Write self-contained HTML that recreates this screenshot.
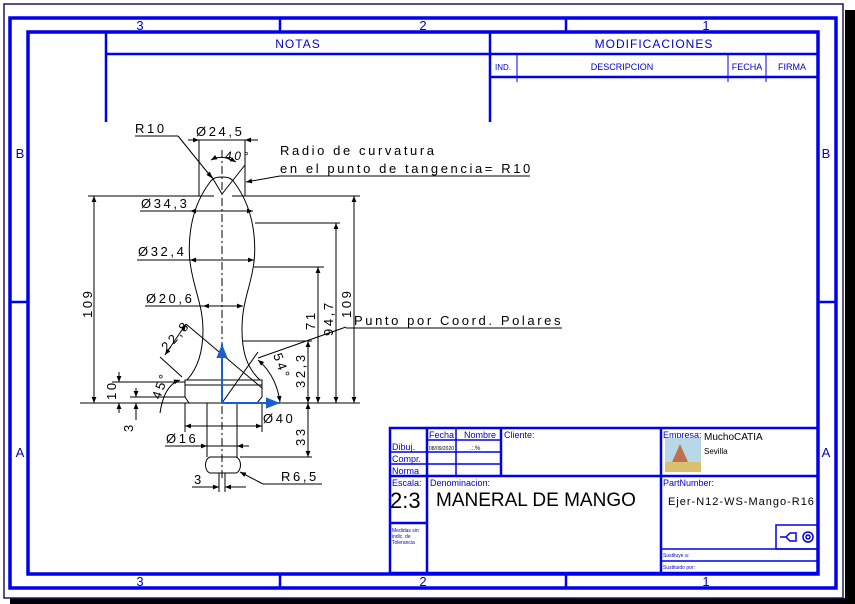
<!DOCTYPE html>
<html><head><meta charset="utf-8"><style>
html,body{margin:0;padding:0;background:#fff;}
svg{display:block;}
.b{stroke:#0000ee;fill:none;}
.k{stroke:#000;fill:none;stroke-width:1;}
.t{font-family:"Liberation Sans",sans-serif;fill:#000;font-size:13px;letter-spacing:2.6px;}
.bt{font-family:"Liberation Sans",sans-serif;fill:#0000cc;}
</style></head><body>
<svg width="855" height="604" viewBox="0 0 855 604" xmlns="http://www.w3.org/2000/svg">
<defs>
<marker id="a" viewBox="0 0 10 10" refX="10" refY="5" markerWidth="8" markerHeight="6" orient="auto-start-reverse"><path d="M0,1 L10,5 L0,9z" fill="#000"/></marker>
<marker id="ab" viewBox="0 0 10 10" refX="10" refY="5" markerWidth="9" markerHeight="7" orient="auto"><path d="M0,1 L10,5 L0,9z" fill="#1a5fd0"/></marker>
</defs>
<rect x="845" y="10" width="10" height="594" fill="#000"/>
<rect x="10" y="598" width="845" height="6" fill="#000"/>
<rect x="4" y="4" width="839" height="594" fill="#fff" stroke="#1a1a60" stroke-width="1.5"/>
<g class="b" stroke-width="3.5">
<rect x="10" y="18" width="826" height="570"/>
<rect x="28" y="32" width="790" height="542"/>
</g>
<g class="b" stroke-width="2.5">
<line x1="280" y1="18" x2="280" y2="32"/><line x1="566" y1="18" x2="566" y2="32"/>
<line x1="280" y1="574" x2="280" y2="588"/><line x1="566" y1="574" x2="566" y2="588"/>
<line x1="10" y1="302" x2="28" y2="302"/><line x1="818" y1="302" x2="836" y2="302"/>
<line x1="106" y1="32" x2="106" y2="122"/><line x1="106" y1="54" x2="818" y2="54"/>
<line x1="490" y1="32" x2="490" y2="122"/><line x1="490" y1="77" x2="818" y2="77"/>
</g>
<g class="b" stroke-width="1"><line x1="517" y1="54" x2="517" y2="82"/><line x1="728" y1="54" x2="728" y2="82"/><line x1="766" y1="54" x2="766" y2="82"/></g>
<g class="bt" font-size="13" text-anchor="middle">
<text x="140" y="30">3</text><text x="423" y="30">2</text><text x="706" y="30">1</text>
<text x="140" y="586">3</text><text x="423" y="586">2</text><text x="706" y="586">1</text>
<text x="20" y="158">B</text><text x="826" y="158">B</text><text x="20" y="457">A</text><text x="826" y="457">A</text>
<text x="298" y="48" font-size="12" letter-spacing="1">NOTAS</text>
<text x="654" y="48" font-size="12" letter-spacing="1">MODIFICACIONES</text>
<text x="503" y="70" font-size="8">IND.</text><text x="622" y="70" font-size="9">DESCRIPCION</text>
<text x="747" y="70" font-size="9">FECHA</text><text x="792" y="70" font-size="9">FIRMA</text>
</g>
<g class="b" stroke-width="2.5">
<rect x="390" y="428" width="428" height="145"/>
<line x1="390" y1="476" x2="818" y2="476"/>
<line x1="427" y1="428" x2="427" y2="573"/>
<line x1="501" y1="428" x2="501" y2="476"/>
<line x1="661" y1="428" x2="661" y2="573"/>
<line x1="390" y1="523" x2="427" y2="523"/>
</g>
<g class="b" stroke-width="1.5">
<line x1="456" y1="428" x2="456" y2="476"/>
<line x1="427" y1="440" x2="501" y2="440"/>
<line x1="390" y1="452" x2="501" y2="452"/><line x1="390" y1="464" x2="501" y2="464"/>
<line x1="661" y1="549" x2="818" y2="549"/><line x1="661" y1="561" x2="818" y2="561"/>
<rect x="776" y="525" width="42" height="24"/>
</g>
<g class="bt" font-size="9">
<text x="429" y="438">Fecha</text><text x="464" y="438">Nombre</text><text x="504" y="438">Cliente:</text>
<text x="392" y="450">Dibuj.</text><text x="392" y="462">Compr.</text><text x="392" y="474">Norma</text>
<text x="429" y="450" font-size="5" fill="#000">08/09/2020</text><text x="470" y="450" font-size="6" fill="#000">.:.%</text>
<text x="392" y="486">Escala:</text><text x="430" y="486">Denominacion:</text>
<text x="663" y="438">Empresa:</text><text x="663" y="486">PartNumber:</text>
<text x="392" y="532" font-size="5">Medidas sin</text><text x="392" y="538" font-size="5">indic. de</text><text x="392" y="544" font-size="5">Tolerancia</text>
<text x="663" y="557" font-size="5">Sustituye a:</text><text x="663" y="569" font-size="5">Sustituido por:</text>
</g>
<g font-family="Liberation Sans,sans-serif" fill="#000">
<text x="390" y="508" font-size="22">2:3</text>
<text x="436" y="506" font-size="19">MANERAL DE MANGO</text>
<text x="668" y="505" font-size="11" letter-spacing="1">Ejer-N12-WS-Mango-R16</text>
<text x="704" y="440" font-size="10">MuchoCATIA</text>
<text x="704" y="454" font-size="8">Sevilla</text>
</g>
<rect x="665" y="438" width="36" height="34" fill="#b8d8e8"/>
<rect x="665" y="462" width="36" height="10" fill="#d8c070"/>
<path d="M672,462 L680,444 L688,462z" fill="#c07050"/>
<g class="b" stroke-width="1.5"><path d="M780,537 h6 l4,-4 h6 v8 h-6 l-4,-4"/><circle cx="808" cy="537" r="5"/><circle cx="808" cy="537" r="2"/></g>
<g class="k" stroke-width="2">
<path d="M222,177 C216,177 213,178 210,182 C198,198 192,215 190,235 C188,255 190,268 196,290 C200,305 203,315 203,330 C203,352 198,368 187,380"/>
<path d="M222,177 C228,177 231,178 234,182 C246,198 252,215 254,235 C256,255 254,268 248,290 C244,305 242,315 242,330 C242,352 247,368 260,380"/>
<path d="M185,380 H262 V397 L257,403 H189 L185,397z"/>
<line x1="185" y1="385" x2="262" y2="385"/>
<path d="M207,403 V457 M237,403 V457"/>
<path d="M210,457 H236 C242,459 242,471 236,473 H210 C204,471 204,459 210,457z"/>
</g>
<g class="k">
<line x1="222" y1="150" x2="222" y2="480" stroke-dasharray="8,3,2,3"/>
<line x1="88" y1="196" x2="214" y2="196"/><line x1="232" y1="196" x2="360" y2="196"/>
<line x1="80" y1="403" x2="360" y2="403"/>
<line x1="94" y1="196" x2="94" y2="403" marker-start="url(#a)" marker-end="url(#a)"/>
<line x1="354" y1="196" x2="354" y2="403" marker-start="url(#a)" marker-end="url(#a)"/>
<line x1="255" y1="223" x2="340" y2="223"/><line x1="336" y1="223" x2="336" y2="403" marker-start="url(#a)" marker-end="url(#a)"/>
<line x1="254" y1="267" x2="324" y2="267"/><line x1="318" y1="267" x2="318" y2="403" marker-start="url(#a)" marker-end="url(#a)"/>
<line x1="243" y1="341" x2="312" y2="341"/><line x1="308" y1="341" x2="308" y2="403" marker-start="url(#a)" marker-end="url(#a)"/>
<line x1="240" y1="457" x2="312" y2="457"/><line x1="308" y1="403" x2="308" y2="457" marker-start="url(#a)" marker-end="url(#a)"/>
<line x1="135" y1="136" x2="178" y2="136"/><line x1="178" y1="136" x2="212" y2="178" marker-end="url(#a)"/>
<line x1="199" y1="140" x2="199" y2="196"/><line x1="245" y1="140" x2="245" y2="196"/>
<line x1="188" y1="140" x2="199" y2="140" marker-end="url(#a)"/><line x1="199" y1="140" x2="245" y2="140"/><line x1="258" y1="140" x2="245" y2="140" marker-end="url(#a)"/>
<path d="M211,160 Q222,154 236,162" marker-start="url(#a)" marker-end="url(#a)"/>
<line x1="222" y1="194" x2="209" y2="172"/><line x1="222" y1="194" x2="245" y2="165"/>
<line x1="530" y1="176" x2="280" y2="176"/><line x1="280" y1="176" x2="246" y2="182" marker-end="url(#a)"/>
<line x1="140" y1="211" x2="190" y2="211"/><line x1="190" y1="211" x2="253" y2="211" marker-start="url(#a)" marker-end="url(#a)"/>
<line x1="137" y1="260" x2="190" y2="260"/><line x1="190" y1="260" x2="254" y2="260" marker-start="url(#a)" marker-end="url(#a)"/>
<line x1="145" y1="306" x2="203" y2="306"/><line x1="203" y1="306" x2="243" y2="306" marker-start="url(#a)" marker-end="url(#a)"/>
<line x1="186" y1="324" x2="262" y2="388"/><line x1="222" y1="403" x2="258" y2="352"/>
<line x1="160" y1="357" x2="182" y2="377"/>
<line x1="186" y1="324" x2="165" y2="355" marker-start="url(#a)" marker-end="url(#a)"/>
<line x1="258" y1="358" x2="346" y2="327"/><line x1="346" y1="328" x2="562" y2="328"/>
<path d="M258,360 Q276,375 280,402" marker-start="url(#a)" marker-end="url(#a)"/>
<path d="M180,380 Q164,385 160,413" marker-start="url(#a)"/>
<line x1="112" y1="382" x2="185" y2="382"/><line x1="119" y1="372" x2="119" y2="382" marker-end="url(#a)"/><line x1="119" y1="413" x2="119" y2="403" marker-end="url(#a)"/>
<line x1="130" y1="397" x2="185" y2="397"/><line x1="136" y1="388" x2="136" y2="397" marker-end="url(#a)"/><line x1="136" y1="420" x2="136" y2="403" marker-end="url(#a)"/>
<line x1="185" y1="403" x2="185" y2="432"/><line x1="262" y1="403" x2="262" y2="432"/>
<line x1="185" y1="426" x2="262" y2="426" marker-start="url(#a)" marker-end="url(#a)"/>
<line x1="165" y1="446" x2="249" y2="446"/>
<line x1="195" y1="446" x2="207" y2="446" marker-end="url(#a)"/><line x1="249" y1="446" x2="237" y2="446" marker-end="url(#a)"/>
<line x1="192" y1="487" x2="219" y2="487" marker-end="url(#a)"/><line x1="246" y1="487" x2="225" y2="487" marker-end="url(#a)"/>
<line x1="219" y1="473" x2="219" y2="492"/><line x1="225" y1="473" x2="225" y2="492"/>
<line x1="322" y1="484" x2="263" y2="484"/><line x1="263" y1="484" x2="240" y2="472" marker-end="url(#a)"/>
</g>
<g stroke="#1a5fd0" stroke-width="2"><line x1="222" y1="403" x2="222" y2="344" marker-end="url(#ab)"/><line x1="222" y1="403" x2="280" y2="403" marker-end="url(#ab)"/></g>
<g class="t">
<text x="135" y="133">R10</text><text x="196" y="136">Ø24,5</text><text x="225" y="160" font-size="12" font-style="italic">40°</text>
<text x="280" y="155">Radio de curvatura</text><text x="280" y="173">en el punto de tangencia= R10</text>
<text x="141" y="208">Ø34,3</text><text x="138" y="256">Ø32,4</text><text x="146" y="303">Ø20,6</text>
<text x="354" y="325">Punto por Coord. Polares</text>
<text x="263" y="423">Ø40</text><text x="166" y="443">Ø16</text><text x="281" y="481">R6,5</text><text x="194" y="484">3</text>
<text transform="translate(92,318) rotate(-90)">109</text>
<text transform="translate(351,318) rotate(-90)">109</text>
<text transform="translate(333,336) rotate(-90)">94,7</text>
<text transform="translate(315,330) rotate(-90)">71</text>
<text transform="translate(305,388) rotate(-90)">32,3</text>
<text transform="translate(305,446) rotate(-90)">33</text>
<text transform="translate(116,400) rotate(-90)">10</text>
<text transform="translate(133,432) rotate(-90)">3</text>
<text transform="translate(160,400) rotate(-70)">45°</text>
<text transform="translate(167,352) rotate(-48)">22,8</text>
<text transform="translate(273,355) rotate(70)">54°</text>
</g>
</svg>
</body></html>
